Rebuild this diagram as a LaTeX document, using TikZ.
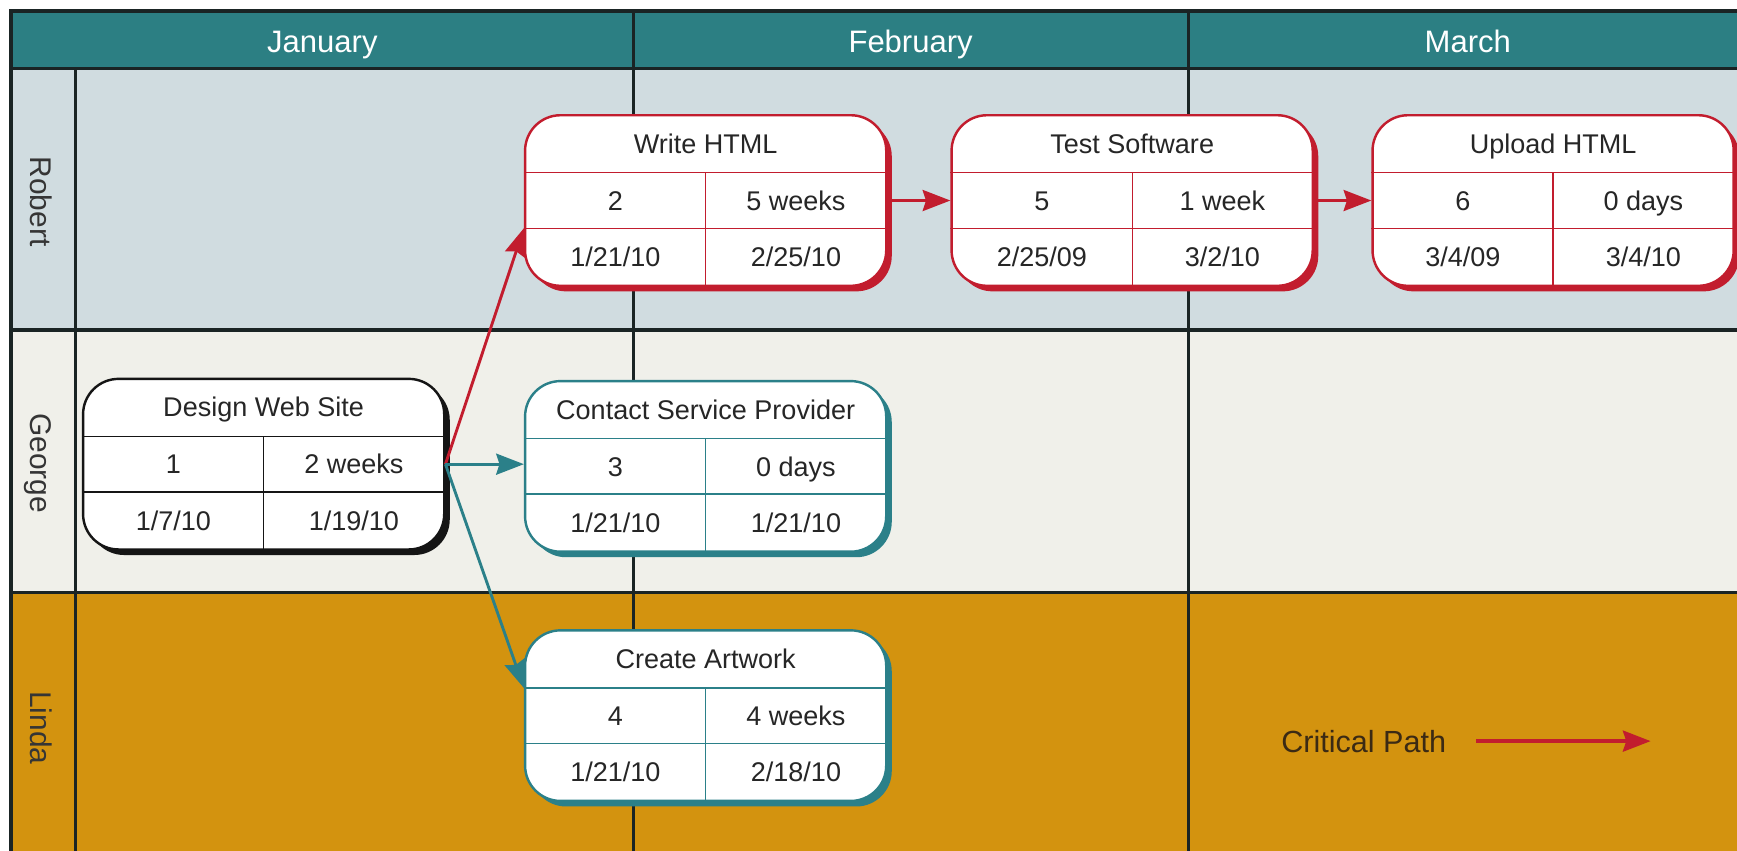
\documentclass[tikz,border=0pt]{standalone}
\usepackage{fontspec}
\setmainfont{Liberation Sans}
\usetikzlibrary{calc,shadows,arrows.meta}

\definecolor{hdrteal}{HTML}{2C7F83}
\definecolor{rowrobert}{HTML}{D0DCE0}
\definecolor{rowgeorge}{HTML}{F0F0EA}
\definecolor{rowlinda}{HTML}{D3930F}
\definecolor{gridline}{HTML}{1A2424}
\definecolor{critred}{HTML}{C21D2E}
\definecolor{taskteal}{HTML}{2B8089}
\definecolor{taskblack}{HTML}{151515}
\definecolor{celltextcol}{HTML}{262626}
\definecolor{lanetext}{HTML}{353535}
\definecolor{legendtext}{HTML}{3B2A14}

\tikzset{
  grid/.style={draw=gridline, line width=1.5pt},
  taskshape/.style={rectangle, rounded corners=16pt, fill=white, line width=1.1pt,
    minimum width=163pt, minimum height=77pt, inner sep=0pt},
  cellline/.style={line width=0.6pt},
  celltext/.style={text=celltextcol, font=\fontsize{12.2}{14}\selectfont, inner sep=0pt,
    text height=8.8pt, text depth=0pt},
  monthtext/.style={text=white, font=\fontsize{14}{16}\selectfont, inner sep=0pt,
    text height=10.1pt, text depth=0pt},
  lanelabel/.style={text=lanetext, font=\fontsize{13.5}{16}\selectfont, rotate=-90, inner sep=0pt,
    text height=9.7pt, text depth=0pt},
  link/.style={line width=1.3pt, -{Stealth[length=12.5pt,width=9.5pt,inset=1.5pt]}},
  critlink/.style={link, draw=critred},
  normlink/.style={link, draw=taskteal},
}

% name, colour, x, y, title, id, duration, start, finish
\newcommand\taskbox[9]{%
  \node[taskshape, draw=#2,
        drop shadow={shadow xshift=2.5pt, shadow yshift=-2.5pt, fill=#2, opacity=1}]
        (#1) at (#3,#4) {};
  \coordinate (#1-hi) at ($(#1.west)+(0,12.5pt)$);
  \coordinate (#1-lo) at ($(#1.west)+(0,-12.5pt)$);
  \draw[cellline, draw=#2] (#1-hi) -- ($(#1.east)+(0,12.5pt)$);
  \draw[cellline, draw=#2] (#1-lo) -- ($(#1.east)+(0,-12.5pt)$);
  \draw[cellline, draw=#2] ($(#1.center)+(0,12.5pt)$) -- (#1.south);
  \node[celltext] (#1-title) at ($(#1.center)+(0,25.75pt)$) {#5};
  \node[celltext] (#1-id)    at ($(#1.center)+(-40.75pt,0)$) {#6};
  \node[celltext] (#1-dur)   at ($(#1.center)+(40.75pt,0)$) {#7};
  \node[celltext] (#1-start) at ($(#1.center)+(-40.75pt,-25.5pt)$) {#8};
  \node[celltext] (#1-end)   at ($(#1.center)+(40.75pt,-25.5pt)$) {#9};
}

\begin{document}
\begin{tikzpicture}[x=0.5pt,y=-0.5pt]
  \useasboundingbox (0,0) rectangle (1568,768);

  % header band and swimlane rows
  \fill[hdrteal]   (10,10)  rectangle (1568,62);
  \fill[rowrobert] (10,62)  rectangle (1568,298);
  \fill[rowgeorge] (10,298) rectangle (1568,535);
  \fill[rowlinda]  (10,535) rectangle (1568,768);

  % grid
  \draw[grid] (10,768) -- (10,10) -- (1568,10);
  \draw[grid] (10,62)  -- (1568,62);
  \draw[grid] (10,298) -- (1568,298);
  \draw[grid] (10,535) -- (1568,535);
  \draw[grid] (68,62)  -- (68,768);
  \draw[grid] (572,10) -- (572,768);
  \draw[grid] (1073,10) -- (1073,768);

  % month headings
  \node[monthtext] (jan) at (291,37)  {January};
  \node[monthtext] (feb) at (822,37)  {February};
  \node[monthtext] (mar) at (1325,37) {March};

  % lane names
  \node[lanelabel] (robert) at (37,182) {Robert};
  \node[lanelabel] (george) at (37,418) {George};
  \node[lanelabel] (linda)  at (37,657) {Linda};

  % tasks
  \taskbox{design}{taskblack}{238}{419}{Design Web Site}{1}{2 weeks}{1/7/10}{1/19/10}
  \taskbox{write}{critred}{637}{181}{Write HTML}{2}{5 weeks}{1/21/10}{2/25/10}
  \taskbox{test}{critred}{1022}{181}{Test Software}{5}{1 week}{2/25/09}{3/2/10}
  \taskbox{upload}{critred}{1402}{181}{Upload HTML}{6}{0 days}{3/4/09}{3/4/10}
  \taskbox{contact}{taskteal}{637}{421}{Contact Service Provider}{3}{0 days}{1/21/10}{1/21/10}
  \taskbox{artwork}{taskteal}{637}{646}{Create Artwork}{4}{4 weeks}{1/21/10}{2/18/10}

  % dependencies
  \draw[critlink] (design.east) -- (write-lo);
  \draw[normlink] (design.east) -- (design.east -| contact.west);
  \draw[normlink] (design.east) -- (artwork-hi);
  \draw[critlink] (write.east) -- (test.west);
  \draw[critlink] (test.east) -- (upload.west);

  % legend
  \node[text=legendtext, font=\fontsize{13.8}{16}\selectfont, inner sep=0pt,
        text height=9.9pt, text depth=0pt]
    (legend) at (1231,669) {Critical Path};
  \coordinate (legend-end) at (1490,669);
  \draw[critlink, line width=1.5pt] ([xshift=13.5pt]legend.east |- legend-end) -- (legend-end);
\end{tikzpicture}
\end{document}
